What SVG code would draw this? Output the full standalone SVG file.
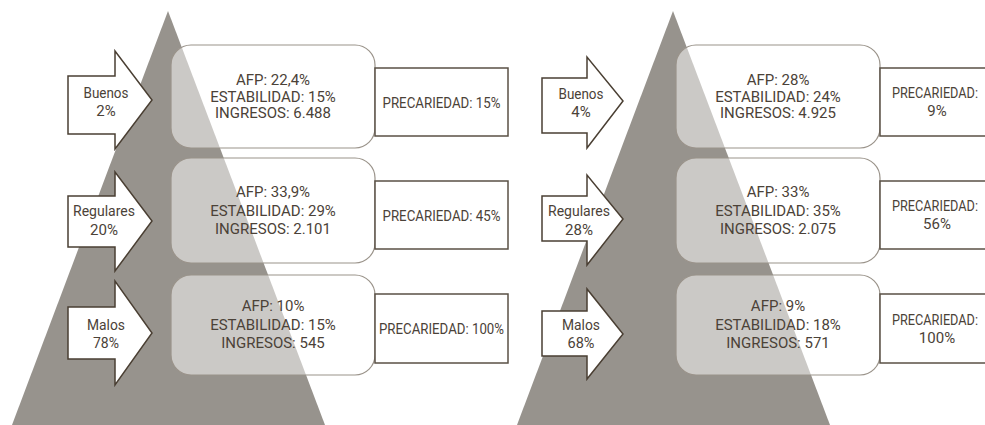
<svg xmlns="http://www.w3.org/2000/svg" width="985" height="425" viewBox="0 0 985 425">
<style>
.tri{fill:#97938d}
.arrow{fill:#ffffff;stroke:#4a3f33;stroke-width:1.5;stroke-linejoin:miter}
.rbox{fill:#ffffff;fill-opacity:0.5;stroke:#9a938a;stroke-width:1.2}
.pbox{fill:#ffffff;stroke:#5a5045;stroke-width:1.5}
text{font-family:Roboto,"Liberation Sans",Arial,sans-serif;font-size:15px;fill:#4b4238;text-anchor:middle}
text.pr{font-size:14px}
</style>
<rect width="985" height="425" fill="#ffffff"/>
<g id="pyramid-left"><polygon class="tri" points="168,11 12,425 325,425"/></g>
<g id="pyramid-right"><polygon class="tri" points="673,11 517,425 830,425"/></g>

<g id="arrow-buenos-l">
<polygon class="arrow" points="68,76 115,76 115,51 152,100 115,149 115,134 68,134"/>
<text x="106" y="98" textLength="45" lengthAdjust="spacingAndGlyphs">Buenos</text>
<text x="106" y="116">2%</text>
</g>
<g id="arrow-regulares-l">
<polygon class="arrow" points="68,196 115,196 115,172 152,221 115,271 115,247 68,247"/>
<text x="104" y="216" textLength="62" lengthAdjust="spacingAndGlyphs">Regulares</text>
<text x="104" y="235" textLength="28" lengthAdjust="spacingAndGlyphs">20%</text>
</g>
<g id="arrow-malos-l">
<polygon class="arrow" points="68,307 115,307 115,281 152,333 115,385 115,359 68,359"/>
<text x="106" y="330" textLength="38" lengthAdjust="spacingAndGlyphs">Malos</text>
<text x="106" y="348" textLength="26" lengthAdjust="spacingAndGlyphs">78%</text>
</g>

<g id="arrow-buenos-r">
<polygon class="arrow" points="542,78 587,78 587,57 623,101 587,148 587,133 542,133"/>
<text x="581" y="99" textLength="45" lengthAdjust="spacingAndGlyphs">Buenos</text>
<text x="581" y="117">4%</text>
</g>
<g id="arrow-regulares-r">
<polygon class="arrow" points="542,196 587,196 587,175 623,219 587,265 587,241 542,241"/>
<text x="579" y="216" textLength="62" lengthAdjust="spacingAndGlyphs">Regulares</text>
<text x="579" y="235" textLength="28" lengthAdjust="spacingAndGlyphs">28%</text>
</g>
<g id="arrow-malos-r">
<polygon class="arrow" points="542,311 587,311 587,289 623,334 587,379 587,356 542,356"/>
<text x="581" y="330" textLength="38" lengthAdjust="spacingAndGlyphs">Malos</text>
<text x="581" y="348" textLength="27" lengthAdjust="spacingAndGlyphs">68%</text>
</g>

<g id="box-buenos-l">
<rect class="rbox" x="171" y="45" width="204" height="103" rx="20"/>
<text x="273" y="84.5">AFP: 22,4%</text>
<text x="273" y="101.5">ESTABILIDAD: 15%</text>
<text x="273" y="118">INGRESOS: 6.488</text>
</g>
<g id="box-regulares-l">
<rect class="rbox" x="171" y="158" width="204" height="105" rx="20"/>
<text x="273" y="197">AFP: 33,9%</text>
<text x="273" y="215.5">ESTABILIDAD: 29%</text>
<text x="273" y="234">INGRESOS: 2.101</text>
</g>
<g id="box-malos-l">
<rect class="rbox" x="171" y="275" width="204" height="100" rx="20"/>
<text x="273" y="311">AFP: 10%</text>
<text x="273" y="329.5">ESTABILIDAD: 15%</text>
<text x="273" y="348">INGRESOS: 545</text>
</g>

<g id="box-buenos-r">
<rect class="rbox" x="676" y="45" width="204" height="103" rx="20"/>
<text x="778" y="84.5">AFP: 28%</text>
<text x="778" y="101.5">ESTABILIDAD: 24%</text>
<text x="778" y="118">INGRESOS: 4.925</text>
</g>
<g id="box-regulares-r">
<rect class="rbox" x="676" y="158" width="204" height="105" rx="20"/>
<text x="778" y="197">AFP: 33%</text>
<text x="778" y="215.5">ESTABILIDAD: 35%</text>
<text x="778" y="234">INGRESOS: 2.075</text>
</g>
<g id="box-malos-r">
<rect class="rbox" x="676" y="275" width="204" height="100" rx="20"/>
<text x="778" y="311">AFP: 9%</text>
<text x="778" y="329.5">ESTABILIDAD: 18%</text>
<text x="778" y="348">INGRESOS: 571</text>
</g>

<g id="prec-buenos-l">
<rect class="pbox" x="375" y="68" width="133" height="68"/>
<text x="441.5" y="107.5" textLength="118" lengthAdjust="spacingAndGlyphs">PRECARIEDAD: 15%</text>
</g>
<g id="prec-regulares-l">
<rect class="pbox" x="375" y="181" width="133" height="68"/>
<text x="441.5" y="220.5" textLength="118" lengthAdjust="spacingAndGlyphs">PRECARIEDAD: 45%</text>
</g>
<g id="prec-malos-l">
<rect class="pbox" x="375" y="294" width="133" height="69"/>
<text x="441.5" y="334" textLength="125" lengthAdjust="spacingAndGlyphs">PRECARIEDAD: 100%</text>
</g>

<g id="prec-buenos-r">
<rect class="pbox" x="880" y="68" width="125" height="68"/>
<text class="pr" x="935" y="98" textLength="86" lengthAdjust="spacingAndGlyphs">PRECARIEDAD:</text>
<text x="937" y="116">9%</text>
</g>
<g id="prec-regulares-r">
<rect class="pbox" x="880" y="181" width="125" height="68"/>
<text class="pr" x="935" y="211" textLength="86" lengthAdjust="spacingAndGlyphs">PRECARIEDAD:</text>
<text x="937" y="229">56%</text>
</g>
<g id="prec-malos-r">
<rect class="pbox" x="880" y="294" width="125" height="69"/>
<text class="pr" x="935" y="324.5" textLength="86" lengthAdjust="spacingAndGlyphs">PRECARIEDAD:</text>
<text x="937" y="342.5">100%</text>
</g>

<g id="connectors"/>
</svg>
